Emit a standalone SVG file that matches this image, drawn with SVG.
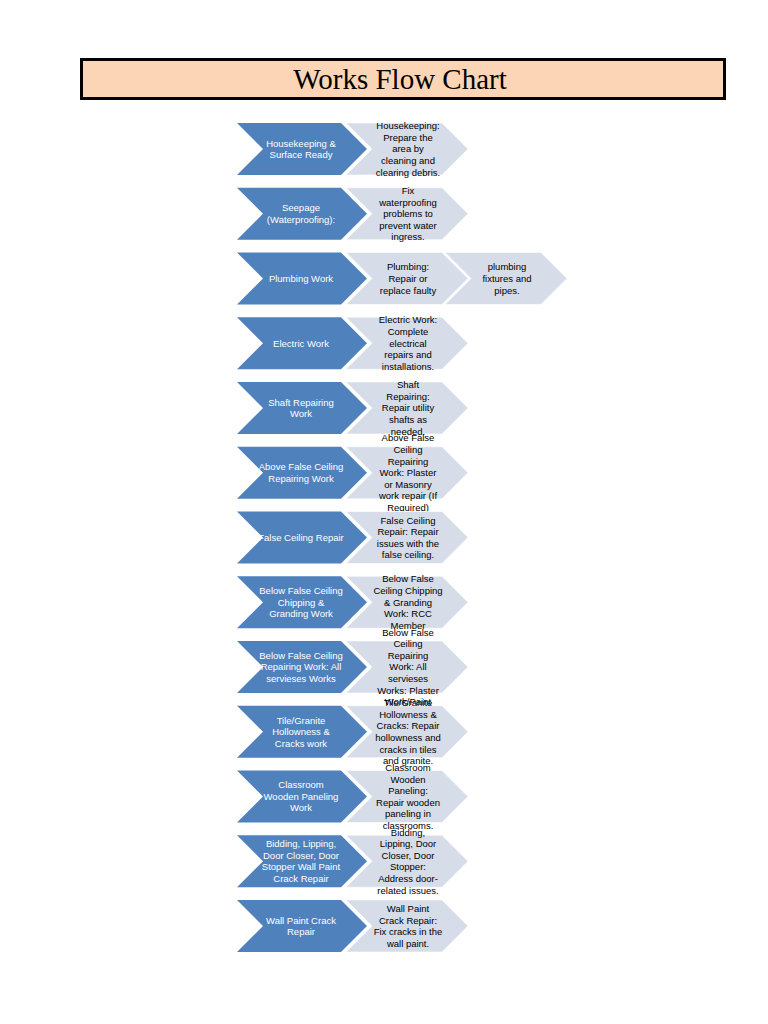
<svg xmlns="http://www.w3.org/2000/svg" xmlns:xlink="http://www.w3.org/1999/xlink" width="768" height="1024" viewBox="0 0 768 1024">
<style>
.dk{fill:#4F81BD;}
.lt{fill:#D6DCE8;stroke:#ffffff;stroke-opacity:0.6;stroke-width:1;}
.tw{font-family:"Liberation Sans",Arial,sans-serif;font-size:9.5px;fill:#ffffff;text-anchor:middle;}
.tb{font-family:"Liberation Sans",Arial,sans-serif;font-size:9.5px;fill:#000000;text-anchor:middle;}
.title{font-family:"Liberation Serif","Times New Roman",serif;font-size:29px;fill:#000;text-anchor:middle;}
</style>
<defs>
<polygon id="dchev" points="237,-26 341,-26 367,0 341,26 237,26 263,0"/>
<polygon id="lchev" points="346,-26 442,-26 468,0 442,26 346,26 372,0"/>
<polygon id="lchev3" points="445,-26 541,-26 567,0 541,26 445,26 471,0"/>
</defs>
<rect width="768" height="1024" fill="#ffffff"/>
<g id="title">
<rect x="81.5" y="59.5" width="643" height="39" fill="#FBD5B5" stroke="#000" stroke-width="3"/>
<text class="title" x="400" y="88.5">Works Flow Chart</text>
</g>
<g id="connectors"/>
<g id="row1" transform="translate(0,149)">
<use href="#lchev" class="lt"/><use href="#dchev" class="dk"/>
<text class="tw" y="-2.35"><tspan x="301">Housekeeping &amp;</tspan><tspan x="301" dy="11.5">Surface Ready</tspan></text>
<text class="tb" y="-19.8"><tspan x="408">Housekeeping:</tspan><tspan x="408" dy="11.6">Prepare the</tspan><tspan x="408" dy="11.6">area by</tspan><tspan x="408" dy="11.6">cleaning and</tspan><tspan x="408" dy="11.6">clearing debris.</tspan></text>
</g>
<g id="row2" transform="translate(0,213.75)">
<use href="#lchev" class="lt"/><use href="#dchev" class="dk"/>
<text class="tw" y="-2.35"><tspan x="301">Seepage</tspan><tspan x="301" dy="11.5">(Waterproofing):</tspan></text>
<text class="tb" y="-19.8"><tspan x="408">Fix</tspan><tspan x="408" dy="11.6">waterproofing</tspan><tspan x="408" dy="11.6">problems to</tspan><tspan x="408" dy="11.6">prevent water</tspan><tspan x="408" dy="11.6">ingress.</tspan></text>
</g>
<g id="row3" transform="translate(0,278.5)">
<use href="#lchev3" class="lt"/><use href="#lchev" class="lt"/><use href="#dchev" class="dk"/>
<text class="tw" y="3.4"><tspan x="301">Plumbing Work</tspan></text>
<text class="tb" y="-8.2"><tspan x="408">Plumbing:</tspan><tspan x="408" dy="11.6">Repair or</tspan><tspan x="408" dy="11.6">replace faulty</tspan></text>
<text class="tb" y="-8.2"><tspan x="507">plumbing</tspan><tspan x="507" dy="11.6">fixtures and</tspan><tspan x="507" dy="11.6">pipes.</tspan></text>
</g>
<g id="row4" transform="translate(0,343.25)">
<use href="#lchev" class="lt"/><use href="#dchev" class="dk"/>
<text class="tw" y="3.4"><tspan x="301">Electric Work</tspan></text>
<text class="tb" y="-19.8"><tspan x="408">Electric Work:</tspan><tspan x="408" dy="11.6">Complete</tspan><tspan x="408" dy="11.6">electrical</tspan><tspan x="408" dy="11.6">repairs and</tspan><tspan x="408" dy="11.6">installations.</tspan></text>
</g>
<g id="row5" transform="translate(0,408)">
<use href="#lchev" class="lt"/><use href="#dchev" class="dk"/>
<text class="tw" y="-2.35"><tspan x="301">Shaft Repairing</tspan><tspan x="301" dy="11.5">Work</tspan></text>
<text class="tb" y="-19.8"><tspan x="408">Shaft</tspan><tspan x="408" dy="11.6">Repairing:</tspan><tspan x="408" dy="11.6">Repair utility</tspan><tspan x="408" dy="11.6">shafts as</tspan><tspan x="408" dy="11.6">needed.</tspan></text>
</g>
<g id="row6" transform="translate(0,472.75)">
<use href="#lchev" class="lt"/><use href="#dchev" class="dk"/>
<text class="tw" y="-2.35"><tspan x="301">Above False Ceiling</tspan><tspan x="301" dy="11.5">Repairing Work</tspan></text>
<text class="tb" y="-31.4"><tspan x="408">Above False</tspan><tspan x="408" dy="11.6">Ceiling</tspan><tspan x="408" dy="11.6">Repairing</tspan><tspan x="408" dy="11.6">Work: Plaster</tspan><tspan x="408" dy="11.6">or Masonry</tspan><tspan x="408" dy="11.6">work repair (If</tspan><tspan x="408" dy="11.6">Required)</tspan></text>
</g>
<g id="row7" transform="translate(0,537.5)">
<use href="#lchev" class="lt"/><use href="#dchev" class="dk"/>
<text class="tw" y="3.4"><tspan x="301">False Ceiling Repair</tspan></text>
<text class="tb" y="-14"><tspan x="408">False Ceiling</tspan><tspan x="408" dy="11.6">Repair: Repair</tspan><tspan x="408" dy="11.6">issues with the</tspan><tspan x="408" dy="11.6">false ceiling.</tspan></text>
</g>
<g id="row8" transform="translate(0,602.25)">
<use href="#lchev" class="lt"/><use href="#dchev" class="dk"/>
<text class="tw" y="-8.1"><tspan x="301">Below False Ceiling</tspan><tspan x="301" dy="11.5">Chipping &amp;</tspan><tspan x="301" dy="11.5">Granding Work</tspan></text>
<text class="tb" y="-19.8"><tspan x="408">Below False</tspan><tspan x="408" dy="11.6">Ceiling Chipping</tspan><tspan x="408" dy="11.6">&amp; Granding</tspan><tspan x="408" dy="11.6">Work: RCC</tspan><tspan x="408" dy="11.6">Member</tspan></text>
</g>
<g id="row9" transform="translate(0,667)">
<use href="#lchev" class="lt"/><use href="#dchev" class="dk"/>
<text class="tw" y="-8.1"><tspan x="301">Below False Ceiling</tspan><tspan x="301" dy="11.5">Repairing Work: All</tspan><tspan x="301" dy="11.5">servieses Works</tspan></text>
<text class="tb" y="-31.4"><tspan x="408">Below False</tspan><tspan x="408" dy="11.6">Ceiling</tspan><tspan x="408" dy="11.6">Repairing</tspan><tspan x="408" dy="11.6">Work: All</tspan><tspan x="408" dy="11.6">servieses</tspan><tspan x="408" dy="11.6">Works: Plaster</tspan><tspan x="408" dy="11.6">Work/Paint</tspan></text>
</g>
<g id="row10" transform="translate(0,731.75)">
<use href="#lchev" class="lt"/><use href="#dchev" class="dk"/>
<text class="tw" y="-8.1"><tspan x="301">Tile/Granite</tspan><tspan x="301" dy="11.5">Hollowness &amp;</tspan><tspan x="301" dy="11.5">Cracks work</tspan></text>
<text class="tb" y="-25.6"><tspan x="408">Tile/Granite</tspan><tspan x="408" dy="11.6">Hollowness &amp;</tspan><tspan x="408" dy="11.6">Cracks: Repair</tspan><tspan x="408" dy="11.6">hollowness and</tspan><tspan x="408" dy="11.6">cracks in tiles</tspan><tspan x="408" dy="11.6">and granite.</tspan></text>
</g>
<g id="row11" transform="translate(0,796.5)">
<use href="#lchev" class="lt"/><use href="#dchev" class="dk"/>
<text class="tw" y="-8.1"><tspan x="301">Classroom</tspan><tspan x="301" dy="11.5">Wooden Paneling</tspan><tspan x="301" dy="11.5">Work</tspan></text>
<text class="tb" y="-25.6"><tspan x="408">Classroom</tspan><tspan x="408" dy="11.6">Wooden</tspan><tspan x="408" dy="11.6">Paneling:</tspan><tspan x="408" dy="11.6">Repair wooden</tspan><tspan x="408" dy="11.6">paneling in</tspan><tspan x="408" dy="11.6">classrooms.</tspan></text>
</g>
<g id="row12" transform="translate(0,861.25)">
<use href="#lchev" class="lt"/><use href="#dchev" class="dk"/>
<text class="tw" y="-13.85"><tspan x="301">Bidding, Lipping,</tspan><tspan x="301" dy="11.5">Door Closer, Door</tspan><tspan x="301" dy="11.5">Stopper Wall Paint</tspan><tspan x="301" dy="11.5">Crack Repair</tspan></text>
<text class="tb" y="-25.6"><tspan x="408">Bidding,</tspan><tspan x="408" dy="11.6">Lipping, Door</tspan><tspan x="408" dy="11.6">Closer, Door</tspan><tspan x="408" dy="11.6">Stopper:</tspan><tspan x="408" dy="11.6">Address door-</tspan><tspan x="408" dy="11.6">related issues.</tspan></text>
</g>
<g id="row13" transform="translate(0,926)">
<use href="#lchev" class="lt"/><use href="#dchev" class="dk"/>
<text class="tw" y="-2.35"><tspan x="301">Wall Paint Crack</tspan><tspan x="301" dy="11.5">Repair</tspan></text>
<text class="tb" y="-14"><tspan x="408">Wall Paint</tspan><tspan x="408" dy="11.6">Crack Repair:</tspan><tspan x="408" dy="11.6">Fix cracks in the</tspan><tspan x="408" dy="11.6">wall paint.</tspan></text>
</g>
</svg>
